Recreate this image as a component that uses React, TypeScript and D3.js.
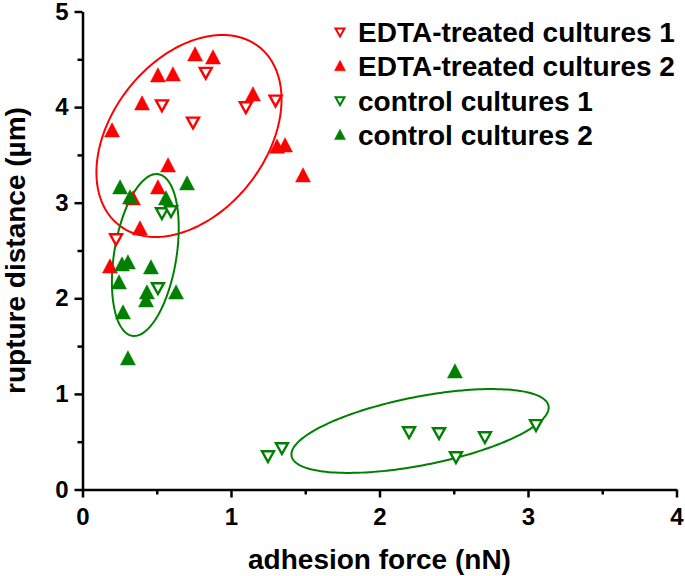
import React, { useRef, useEffect } from 'react';
import * as d3 from 'd3';

// adhesion force (nN), rupture distance (um)
const edta1X = [0.83, 0.535, 1.10, 1.30, 0.744, 0.226];
const edta1Y = [4.36, 4.02, 4.0, 4.07, 3.84, 2.62];

const edta2X = [0.758, 0.879, 0.508, 0.609, 0.401, 1.148, 0.199, 1.31, 1.364, 1.485, 0.576, 0.508, 0.34, 0.387, 0.185];
const edta2Y = [4.545, 4.513, 4.325, 4.336, 4.032, 4.127, 3.75, 3.58, 3.593, 3.279, 3.384, 3.154, 3.039, 2.725, 2.327];

const control1X = [0.535, 0.596, 0.508, 1.249, 1.343, 2.199, 2.401, 2.71, 2.515, 3.054];
const control1Y = [2.892, 2.913, 2.108, 0.35, 0.434, 0.601, 0.591, 0.549, 0.34, 0.675];

const control2X = [0.253, 0.704, 0.562, 0.32, 0.266, 0.306, 0.461, 0.246, 0.434, 0.428, 0.63, 0.273, 0.306, 2.508];
const control2Y = [3.154, 3.196, 3.039, 3.049, 2.348, 2.369, 2.317, 2.16, 2.055, 1.972, 2.055, 1.846, 1.365, 1.229];

const seriesNames = ['EDTA-treated cultures 1', 'EDTA-treated cultures 2', 'control cultures 1', 'control cultures 2'];

// ellipses: centre, and the two half axes as vectors (data units)
const ellipseCenters = [[0.717, 3.698], [0.423, 2.453], [2.273, 0.612]];
const ellipseMajor = [[0.472, 0.932], [0.088, 0.845], [0.865, 0.263]];
const ellipseMinor = [[0.407, -0.497], [0.207, -0.052], [0.044, -0.351]];
const ellipseColors = ['#ff0000', '#008000', '#008000'];

const xTicks = [0, 1, 2, 3, 4];
const yTicks = [0, 1, 2, 3, 4, 5];

const App = () => {
  const chartRef = useRef<SVGSVGElement>(null);

  useEffect(() => {
    if (!chartRef.current) return;
    const svg = d3.select(chartRef.current);
    svg.selectAll('*').remove();

    const font = '"Liberation Sans", Arial, sans-serif';

    const x = d3.scaleLinear().domain([0, 4]).range([82.5, 676.5]);
    const y = d3.scaleLinear().domain([0, 5]).range([489.5, 11.5]);

    const red = '#ff0000';
    const green = '#008000';

    const series = [
      { name: seriesNames[0], xs: edta1X, ys: edta1Y, color: red, open: true },
      { name: seriesNames[1], xs: edta2X, ys: edta2Y, color: red, open: false },
      { name: seriesNames[2], xs: control1X, ys: control1Y, color: green, open: true },
      { name: seriesNames[3], xs: control2X, ys: control2Y, color: green, open: false },
    ];

    // triangles: filled pointing up, open pointing down
    const upTri = (w: number) => `M0,${-w * 0.55}L${w / 2},${w * 0.4}L${-w / 2},${w * 0.4}Z`;
    const downTri = (w: number) => `M0,${w * 0.5}L${w / 2},${-w * 0.4}L${-w / 2},${-w * 0.4}Z`;

    // ellipses
    ellipseCenters.forEach((c, k) => {
      const M = ellipseMajor[k];
      const m = ellipseMinor[k];
      const ts = d3.range(0, 2 * Math.PI, Math.PI / 90);
      const pathLine = d3.line<number>()
        .curve(d3.curveLinearClosed)
        .x(t => x(c[0] + M[0] * Math.cos(t) + m[0] * Math.sin(t)))
        .y(t => y(c[1] + M[1] * Math.cos(t) + m[1] * Math.sin(t)));
      svg.append('path')
        .attr('d', pathLine(ts))
        .attr('fill', 'none')
        .attr('stroke', ellipseColors[k])
        .attr('stroke-width', 2);
    });

    // points
    series.forEach(s => {
      svg.append('g')
        .selectAll('path')
        .data(s.xs.map((v, i) => [v, s.ys[i]]))
        .join('path')
        .attr('transform', d => `translate(${x(d[0])},${y(d[1])})`)
        .attr('d', s.open ? downTri(12) : upTri(15))
        .attr('fill', s.open ? '#fff' : s.color)
        .attr('stroke', s.color)
        .attr('stroke-width', s.open ? 2.4 : 0.5);
    });

    // x axis, major + minor ticks
    const xAxis = svg.append('g')
      .attr('transform', `translate(0,${y(0)})`)
      .call(d3.axisBottom(x).tickValues(xTicks).tickFormat(d3.format('d')).tickSize(8).tickPadding(10).tickSizeOuter(0));
    svg.append('g')
      .attr('transform', `translate(0,${y(0)})`)
      .call(d3.axisBottom(x).tickValues(d3.range(0.5, 4, 1)).tickFormat(() => '').tickSize(5).tickSizeOuter(0))
      .call(g => g.select('.domain').remove());

    // y axis
    const yAxis = svg.append('g')
      .attr('transform', `translate(${x(0)},0)`)
      .call(d3.axisLeft(y).tickValues(yTicks).tickFormat(d3.format('d')).tickSize(8).tickPadding(6).tickSizeOuter(0));
    svg.append('g')
      .attr('transform', `translate(${x(0)},0)`)
      .call(d3.axisLeft(y).tickValues(d3.range(0.5, 5, 1)).tickFormat(() => '').tickSize(5).tickSizeOuter(0))
      .call(g => g.select('.domain').remove());

    [xAxis, yAxis].forEach(g => {
      g.select('.domain').attr('stroke', '#000').attr('stroke-width', 2.5);
      g.selectAll('.tick text')
        .attr('font-family', font)
        .attr('font-weight', 'bold')
        .attr('font-size', 24)
        .attr('fill', '#000');
    });
    svg.selectAll('.tick line').attr('stroke-width', 2.5);

    // axis titles
    svg.append('text')
      .attr('x', (x(0) + x(4)) / 2)
      .attr('y', 569)
      .attr('text-anchor', 'middle')
      .attr('font-family', font)
      .attr('font-weight', 'bold')
      .attr('font-size', 28)
      .text('adhesion force (nN)');

    svg.append('text')
      .attr('transform', `translate(25,${(y(0) + y(5)) / 2}) rotate(-90)`)
      .attr('text-anchor', 'middle')
      .attr('font-family', font)
      .attr('font-weight', 'bold')
      .attr('font-size', 28)
      .text('rupture distance (\u00b5m)');

    // legend
    const legend = svg.append('g')
      .selectAll('g')
      .data(series)
      .join('g')
      .attr('transform', (d, i) => `translate(340,${32 + i * 34.4})`);
    legend.append('path')
      .attr('d', d => (d.open ? downTri(9) : upTri(11)))
      .attr('fill', d => (d.open ? '#fff' : d.color))
      .attr('stroke', d => d.color)
      .attr('stroke-width', d => (d.open ? 2 : 0.5));
    legend.append('text')
      .attr('x', 18)
      .attr('y', 9.8)
      .attr('font-family', font)
      .attr('font-weight', 'bold')
      .attr('font-size', 28)
      .attr('fill', '#000')
      .text(d => d.name);
  }, []);

  return (
    <svg
      ref={chartRef}
      width={685}
      height={576}
      style={{ position: 'absolute', left: 0, top: 0, background: '#fff' }}
    />
  );
};

export default App;
